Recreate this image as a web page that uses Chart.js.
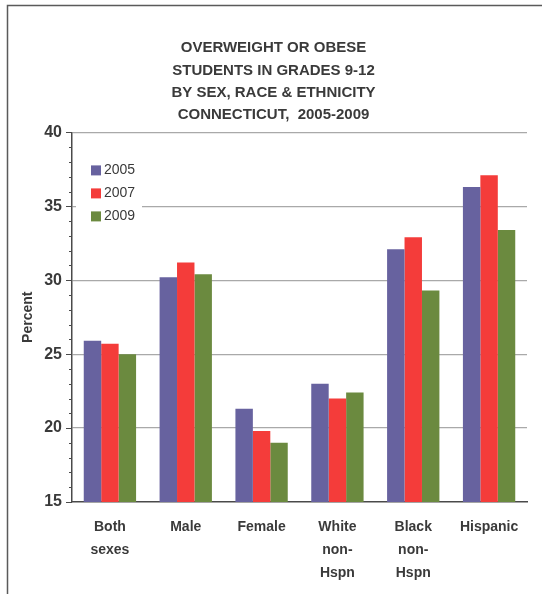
<!DOCTYPE html>
<html>
<head>
<meta charset="utf-8">
<script src="https://cdn.jsdelivr.net/npm/chart.js@4.4.1/dist/chart.umd.min.js"></script>
<style>
  html, body { margin: 0; padding: 0; background: #ffffff; }
  #wrap { position: relative; width: 542px; height: 594px; }
</style>
</head>
<body>
<div id="wrap"><canvas id="c" width="542" height="594"></canvas></div>
<script>
// Overweight or obese students, grades 9-12, Connecticut (percent)
const categories = [["Both", "sexes"], "Male", "Female", ["White", "non-", "Hspn"], ["Black", "non-", "Hspn"], "Hispanic"];
const years = ["2005", "2007", "2009"];
const values2005 = [25.9, 30.2, 21.3, 23.0, 32.1, 36.3];
const values2007 = [25.7, 31.2, 19.8, 22.0, 32.9, 37.1];
const values2009 = [25.0, 30.4, 19.0, 22.4, 29.3, 33.4];
const yTicks = [15, 20, 25, 30, 35, 40];
const titleLines = ["OVERWEIGHT OR OBESE", "STUDENTS IN GRADES 9-12", "BY SEX, RACE & ETHNICITY", "CONNECTICUT,  2005-2009"];

const colors = ["#67629f", "#f43c3a", "#6b8a3f"];
const textColor = "#3a3a3a";
const axisColor = "#4a4a4a";
const fontFamily = "'Liberation Sans', Arial, sans-serif";

// Outer frame around the figure
const framePlugin = {
  id: "frame",
  beforeDraw(chart) {
    const ctx = chart.ctx;
    ctx.save();
    ctx.fillStyle = "#ffffff";
    ctx.fillRect(0, 0, chart.width, chart.height);
    ctx.strokeStyle = "#5a5a5a";
    ctx.lineWidth = 1.5;
    ctx.beginPath();
    ctx.moveTo(7.5, chart.height);
    ctx.lineTo(7.5, 5.5);
    ctx.lineTo(chart.width, 5.5);
    ctx.stroke();
    ctx.restore();
  }
};

// Major and minor tick marks on the value axis
const tickPlugin = {
  id: "yTickMarks",
  afterDraw(chart) {
    const y = chart.scales.y;
    const ctx = chart.ctx;
    const x0 = chart.chartArea.left;
    ctx.save();
    ctx.strokeStyle = axisColor;
    ctx.lineWidth = 1;
    for (let v = y.min; v <= y.max; v++) {
      const py = Math.round(y.getPixelForValue(v)) + 0.5;
      const len = yTicks.includes(v) ? 6 : 3;
      ctx.beginPath();
      ctx.moveTo(x0 - len, py);
      ctx.lineTo(x0, py);
      ctx.stroke();
    }
    ctx.restore();
  }
};

// Legend drawn inside the plot area, top left
const innerLegend = {
  id: "innerLegend",
  afterDatasetsDraw(chart) {
    const ctx = chart.ctx;
    const left = chart.chartArea.left + 4;
    const top = chart.chartArea.top + 24;
    ctx.save();
    ctx.fillStyle = "#ffffff";
    ctx.fillRect(left, top, 66, 76);
    ctx.font = "14px " + fontFamily;
    ctx.textBaseline = "middle";
    chart.data.datasets.forEach((ds, i) => {
      const cy = top + 14 + i * 23;
      ctx.fillStyle = ds.backgroundColor;
      ctx.fillRect(left + 15, cy - 5, 10, 10);
      ctx.fillStyle = textColor;
      ctx.fillText(ds.label, left + 28, cy);
    });
    ctx.restore();
  }
};

new Chart(document.getElementById("c"), {
  type: "bar",
  data: {
    labels: categories,
    datasets: [
      { label: years[0], data: values2005, backgroundColor: colors[0] },
      { label: years[1], data: values2007, backgroundColor: colors[1] },
      { label: years[2], data: values2009, backgroundColor: colors[2] }
    ]
  },
  options: {
    responsive: false,
    animation: false,
    devicePixelRatio: 1,
    layout: { padding: { left: 20, right: 15, top: 8, bottom: 0 } },
    datasets: { bar: { categoryPercentage: 0.69, barPercentage: 1.0 } },
    plugins: {
      legend: { display: false },
      tooltip: { enabled: false },
      title: {
        display: true,
        text: titleLines,
        color: textColor,
        font: { family: fontFamily, size: 15, weight: "bold", lineHeight: 1.49 },
        padding: { top: 29, bottom: 6 }
      }
    },
    scales: {
      x: {
        afterFit(scale) { scale.height = 92; },
        grid: { display: false, drawTicks: false },
        border: { color: axisColor, width: 1.5 },
        ticks: {
          color: textColor,
          padding: 14,
          maxRotation: 0,
          autoSkip: false,
          font: { family: fontFamily, size: 14, weight: "bold", lineHeight: 1.63 }
        }
      },
      y: {
        min: 15,
        max: 40,
        afterFit(scale) { scale.width = 52; },
        grid: {
          drawTicks: false,
          color: (c) => (c.tick && yTicks.includes(c.tick.value) && c.tick.value !== 15) ? "#a9a9a9" : "rgba(0,0,0,0)",
          lineWidth: 1.2
        },
        border: { color: axisColor, width: 1.5 },
        title: {
          display: true,
          text: "Percent",
          color: textColor,
          font: { family: fontFamily, size: 14, weight: "bold" },
          padding: { top: 0, bottom: 8 }
        },
        ticks: {
          stepSize: 1,
          autoSkip: false,
          padding: 10,
          color: textColor,
          font: { family: fontFamily, size: 16, weight: "bold" },
          callback: (v) => yTicks.includes(v) ? String(v) : ""
        }
      }
    }
  },
  plugins: [framePlugin, tickPlugin, innerLegend]
});
</script>
</body>
</html>
